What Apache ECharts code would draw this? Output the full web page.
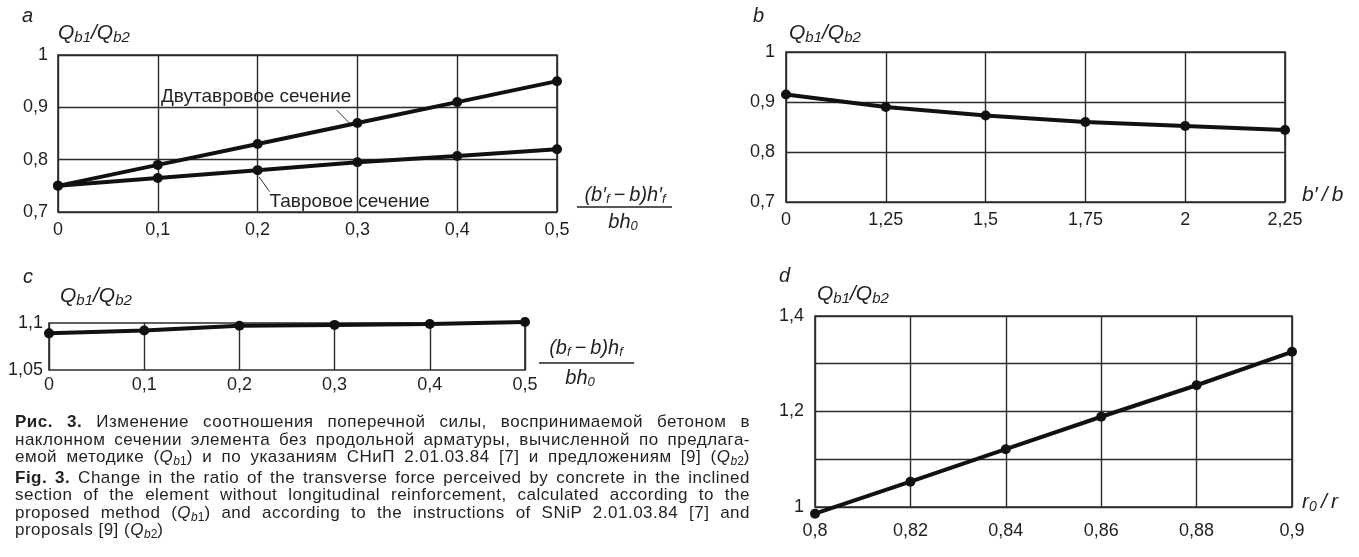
<!DOCTYPE html>
<html><head><meta charset="utf-8">
<script src="https://cdn.jsdelivr.net/npm/echarts@6/dist/echarts.min.js"></script>
<style>
html,body{margin:0;padding:0;background:#fff;}
#chart{position:absolute;left:0;top:0;width:1359px;height:557px;}
.cap{position:absolute;left:15px;width:735px;font-family:"Liberation Sans",Arial,sans-serif;font-size:17px;letter-spacing:0.5px;line-height:18px;color:#231f20;white-space:nowrap;}
.j{text-align:justify;text-align-last:justify;}
.cap b{font-weight:bold;}
.cap sub{font-size:12px;vertical-align:-3px;line-height:0;letter-spacing:0;}
</style>
</head><body>
<div id="chart"></div>
<div class="cap j" style="top:413px"><b>Рис. 3.</b> Изменение соотношения поперечной силы, воспринимаемой бетоном в</div>
<div class="cap j" style="top:431px">наклонном сечении элемента без продольной арматуры, вычисленной по предлага-</div>
<div class="cap j" style="top:448px">емой методике (<i>Q</i><sub><i>b</i>1</sub>) и по указаниям СНиП 2.01.03.84 [7] и предложениям [9] (<i>Q</i><sub><i>b</i>2</sub>)</div>
<div class="cap j" style="top:469px"><b>Fig. 3.</b> Change in the ratio of the transverse force perceived by concrete in the inclined</div>
<div class="cap j" style="top:486px">section of the element without longitudinal reinforcement, calculated according to the</div>
<div class="cap j" style="top:504px">proposed method (<i>Q</i><sub><i>b</i>1</sub>) and according to the instructions of SNiP 2.01.03.84 [7] and</div>
<div class="cap" style="top:521px">proposals [9] (<i>Q</i><sub><i>b</i>2</sub>)</div>
<script>
// ---- data ----
const xA = [0, 0.1, 0.2, 0.3, 0.4, 0.5];
const aIBeam = [0.75, 0.79, 0.83, 0.87, 0.91, 0.95];      // Двутавровое сечение
const aTBeam = [0.75, 0.765, 0.78, 0.795, 0.807, 0.82];   // Тавровое сечение
const bCats = ['0', '1,25', '1,5', '1,75', '2', '2,25'];
const bVals = [0.915, 0.89, 0.873, 0.86, 0.852, 0.844];
const xC = [0, 0.1, 0.2, 0.3, 0.4, 0.5];
const cVals = [1.089, 1.092, 1.097, 1.098, 1.099, 1.101];
const xD = [0.8, 0.82, 0.84, 0.86, 0.88, 0.9];
const dVals = [0.986, 1.053, 1.121, 1.189, 1.255, 1.325];
const leaderIBeam = [[0.279, 0.895], [0.292, 0.870]];
const leaderTBeam = [[0.2015, 0.767], [0.212, 0.739]];
const labelIBeam = 'Двутавровое сечение';
const labelTBeam = 'Тавровое сечение';

// ---- styles ----
const FONT = '"Liberation Sans", Arial, sans-serif';
const INK = '#231f20';
const GRID = '#2b2b2b';
const fmt = v => String(+(+v).toFixed(3)).replace('.', ',');
const pair = (xs, ys) => xs.map((x, i) => [x, ys[i]]);
const lab = (m) => ({show: true, color: INK, fontFamily: FONT, fontSize: 18, margin: m, formatter: fmt});
const split = {show: true, lineStyle: {color: GRID, width: 1.4}};
const noAx = {axisLine: {show: false}, axisTick: {show: false}};
const gridBox = (l, t, w, h) => ({left: l, top: t, width: w, height: h, show: true, borderColor: GRID, borderWidth: 1.6, backgroundColor: 'transparent', containLabel: false, outerBoundsMode: 'none'});
const lineSeries = (xi, yi, data, extra) => Object.assign({
  type: 'line', xAxisIndex: xi, yAxisIndex: yi, data: data, symbol: 'circle', symbolSize: 10,
  lineStyle: {color: '#111', width: 4}, itemStyle: {color: '#111'}, clip: false, z: 5
}, extra || {});
const leader = (pts) => ({silent: true, symbol: 'none', label: {show: false},
  lineStyle: {color: '#333', width: 1, type: 'solid'},
  data: [[{coord: pts[0]}, {coord: pts[1]}]]});

const qRich = {
  q: {fontFamily: FONT, fontStyle: 'italic', fontSize: 21, color: INK},
  s: {fontFamily: FONT, fontStyle: 'italic', fontSize: 15, color: INK, padding: [10, 0, 0, 0]}
};
const qText = '{q|Q}{s|b1}{q|/Q}{s|b2}';
function txt(x, y, text, opts) {
  return {type: 'text', x: x, y: y, z: 10, style: Object.assign({
    text: text, fill: INK, font: 'italic 20px ' + FONT, textAlign: 'left', textVerticalAlign: 'middle'
  }, opts || {})};
}
function line(x1, y1, x2, y2) {
  return {type: 'line', z: 10, shape: {x1: x1, y1: y1, x2: x2, y2: y2}, style: {stroke: INK, lineWidth: 1.3}};
}
const fr = {
  i: {fontFamily: FONT, fontStyle: 'italic', fontSize: 20, color: INK},
  s: {fontFamily: FONT, fontStyle: 'italic', fontSize: 13, color: INK, padding: [9, 0, 0, 0]}
};

const option = {
  animation: false,
  backgroundColor: '#fff',
  grid: [
    gridBox(58, 55, 499, 157),
    gridBox(786, 52, 499, 150),
    gridBox(49, 323, 476, 47),
    gridBox(815, 316, 477, 191)
  ],
  xAxis: [
    Object.assign({gridIndex: 0, type: 'value', min: 0, max: 0.5, interval: 0.1, axisLabel: lab(9), splitLine: split}, noAx),
    Object.assign({gridIndex: 1, type: 'category', data: bCats, boundaryGap: false,
      axisLabel: Object.assign(lab(9), {formatter: null, interval: 0}), splitLine: Object.assign({interval: 0}, split)}, noAx),
    Object.assign({gridIndex: 2, type: 'value', min: 0, max: 0.5, interval: 0.1, axisLabel: lab(6), splitLine: split}, noAx),
    Object.assign({gridIndex: 3, type: 'value', min: 0.8, max: 0.9, interval: 0.02, axisLabel: lab(15), splitLine: split}, noAx)
  ],
  yAxis: [
    Object.assign({gridIndex: 0, type: 'value', min: 0.7, max: 1, interval: 0.1, axisLabel: lab(10), splitLine: split}, noAx),
    Object.assign({gridIndex: 1, type: 'value', min: 0.7, max: 1, interval: 0.1, axisLabel: lab(11), splitLine: split}, noAx),
    Object.assign({gridIndex: 2, type: 'value', min: 1.05, max: 1.1, interval: 0.05, axisLabel: lab(6), splitLine: {show: false}}, noAx),
    Object.assign({gridIndex: 3, type: 'value', min: 1, max: 1.4, interval: 0.1,
      axisLabel: Object.assign(lab(11), {formatter: v => (Math.round(v * 10) % 2 === 0 ? fmt(v) : '')}), splitLine: split}, noAx)
  ],
  series: [
    lineSeries(0, 0, pair(xA, aIBeam), {name: labelIBeam, markLine: leader(leaderIBeam)}),
    lineSeries(0, 0, pair(xA, aTBeam), {name: labelTBeam, markLine: leader(leaderTBeam)}),
    lineSeries(1, 1, bVals),
    lineSeries(2, 2, pair(xC, cVals)),
    lineSeries(3, 3, pair(xD, dVals))
  ],
  graphic: [
    txt(22, 16, 'a'),
    txt(58, 33, qText, {rich: qRich}),
    txt(753, 16, 'b'),
    txt(789, 33, qText, {rich: qRich}),
    txt(23, 277, 'c'),
    txt(60, 296, qText, {rich: qRich}),
    txt(779, 276, 'd'),
    txt(817, 294, qText, {rich: qRich}),
    txt(161, 97, labelIBeam, {font: '19px ' + FONT}),
    txt(269.5, 202, labelTBeam, {font: '19px ' + FONT}),
    // fraction under chart a
    txt(625, 195, '{i|(b′}{s|f}{i|\u2009−\u2009b)h′}{s|f}', {rich: fr, textAlign: 'center'}),
    line(577, 207, 672, 207),
    txt(623, 222, '{i|bh}{s|0}', {rich: fr, textAlign: 'center'}),
    // fraction under chart c
    txt(586, 348, '{i|(b}{s|f}{i|\u2009−\u2009b)h}{s|f}', {rich: fr, textAlign: 'center'}),
    line(539, 363, 634, 363),
    txt(580, 378, '{i|bh}{s|0}', {rich: fr, textAlign: 'center'}),
    txt(1302, 195, 'b′\u2009/\u2009b', {font: 'italic 21px ' + FONT}),
    txt(1302, 502, '{i|r}{s|0}{i|\u2009/\u2009r}', {rich: {
      i: {fontFamily: FONT, fontStyle: 'italic', fontSize: 21, color: INK},
      s: {fontFamily: FONT, fontStyle: 'italic', fontSize: 14, color: INK, padding: [10, 0, 0, 0]}}})
  ]
};
const chart = echarts.init(document.getElementById('chart'), null, {renderer: 'canvas'});
chart.setOption(option);
</script>
</body></html>
